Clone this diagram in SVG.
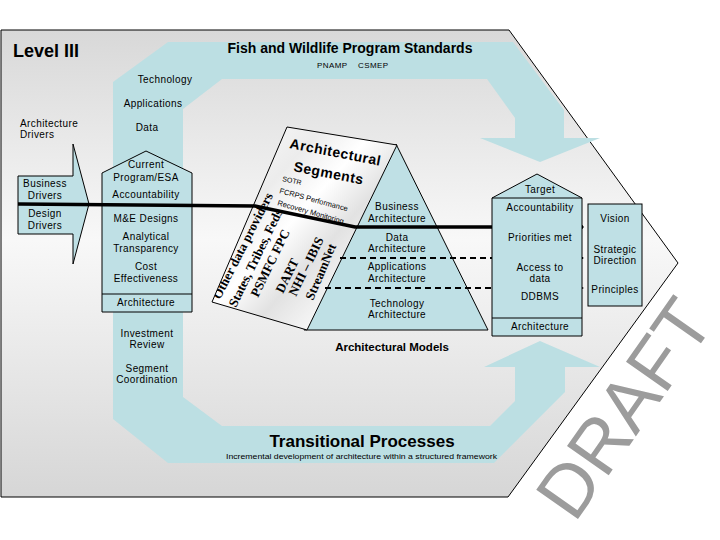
<svg xmlns="http://www.w3.org/2000/svg" width="720" height="540" viewBox="0 0 720 540">
<defs>
<linearGradient id="bg" x1="0" y1="0" x2="0" y2="1">
<stop offset="0" stop-color="#d8d8d8"/>
<stop offset="0.45" stop-color="#f8f8f8"/>
<stop offset="1" stop-color="#d6d6d6"/>
</linearGradient>
<linearGradient id="card" x1="0" y1="0" x2="1" y2="1">
<stop offset="0" stop-color="#ffffff"/>
<stop offset="0.3" stop-color="#ececec"/>
<stop offset="0.45" stop-color="#ffffff"/>
<stop offset="0.6" stop-color="#e2e2e2"/>
<stop offset="0.8" stop-color="#fbfbfb"/>
<stop offset="1" stop-color="#e6e6e6"/>
</linearGradient>
<clipPath id="cardclip"><polygon points="287,127 397,145 307,330 212,302"/></clipPath>
<marker id="ah" viewBox="0 0 10 10" refX="9" refY="5" markerWidth="4" markerHeight="4" orient="auto" markerUnits="strokeWidth">
<path d="M0,0 L10,5 L0,10 Z" fill="#000"/>
</marker>
<marker id="ahd" viewBox="0 0 10 10" refX="9" refY="5" markerWidth="5" markerHeight="5" orient="auto" markerUnits="strokeWidth">
<path d="M0,0 L10,5 L0,10 Z" fill="#000"/>
</marker>
</defs>
<style>
.t{font-family:"Liberation Sans",Arial,sans-serif;font-size:10px;fill:#000;letter-spacing:0.4px}
.c{text-anchor:middle}
.s{font-size:8px}
.b{font-weight:bold;letter-spacing:0}
.box{fill:#bfe0e5;stroke:#000;stroke-width:1}
.band{fill:#bcdfe3}
.tm{font-family:"Liberation Serif","Times New Roman",serif;font-weight:bold;font-size:13px;fill:#000}
.cd{font-family:"Liberation Sans",Arial,sans-serif;fill:#000}
.wm{font-family:"Liberation Sans",Arial,sans-serif;fill:#9c9c9c;font-size:74px;text-anchor:middle}
</style>
<rect width="720" height="540" fill="#fff"/>
<g id="frame">
<polygon points="1,30 509,30 678,263 508,497 1,497" fill="url(#bg)" stroke="#000" stroke-width="1"/>
</g>
<g id="flow-band">
<path class="band" d="M168,42 L513,42 L564,110 L564,138 L600,138 L540,162 L480,138 L515,138 L515,118 L487,79 L222,79 L183,109 L183,397 L222,426 L490,426 L515,401 L515,367 L484,367 L540,341 L600,367 L565,367 L565,392 L494,463 L168,463 L113,419 L113,82 Z"/>
</g>
<g id="title">
<text class="t b" x="13" y="57" style="font-size:18px">Level III</text>
<text class="t b c" x="350" y="53" style="font-size:14px">Fish and Wildlife Program Standards</text>
<text class="t s" x="317" y="68">PNAMP</text>
<text class="t s" x="358" y="68">CSMEP</text>
</g>
<g id="band-labels">
<text class="t c" x="165" y="83">Technology</text>
<text class="t c" x="153" y="107">Applications</text>
<text class="t c" x="147" y="131">Data</text>
<text class="t c" x="147" y="337">Investment</text>
<text class="t c" x="147" y="348">Review</text>
<text class="t c" x="147" y="372">Segment</text>
<text class="t c" x="147" y="383">Coordination</text>
</g>
<g id="arch-drivers">
<text class="t" x="20" y="127">Architecture</text>
<text class="t" x="20" y="138">Drivers</text>
</g>
<g id="drivers-arrow">
<polygon class="box" points="18,176 73,176 73,144 89,204 73,264 73,234 18,234"/>
<text class="t c" x="45" y="187">Business</text>
<text class="t c" x="45" y="199">Drivers</text>
<text class="t c" x="45" y="217">Design</text>
<text class="t c" x="45" y="229">Drivers</text>
</g>
<g id="current">
<polygon class="box" points="102,173 146,151 192,173 192,312 102,312"/>
<line x1="102" y1="294" x2="192" y2="294" stroke="#000"/>
<text class="t c" x="146" y="168">Current</text>
<text class="t c" x="146" y="181">Program/ESA</text>
<text class="t c" x="146" y="198">Accountability</text>
<text class="t c" x="146" y="222">M&amp;E Designs</text>
<text class="t c" x="146" y="240">Analytical</text>
<text class="t c" x="146" y="252">Transparency</text>
<text class="t c" x="146" y="270">Cost</text>
<text class="t c" x="146" y="282">Effectiveness</text>
<text class="t c" x="146" y="306">Architecture</text>
</g>
<g id="pyramid">
<polygon class="box" points="396,144 488,330 304,330"/>
<text class="t c" x="397" y="210">Business</text>
<text class="t c" x="397" y="222">Architecture</text>
<text class="t c" x="397" y="241">Data</text>
<text class="t c" x="397" y="252">Architecture</text>
<text class="t c" x="397" y="270">Applications</text>
<text class="t c" x="397" y="282">Architecture</text>
<text class="t c" x="397" y="307">Technology</text>
<text class="t c" x="397" y="318">Architecture</text>
<text class="t b c" x="392" y="351" style="font-size:11.5px">Architectural Models</text>
</g>
<g id="segments-card">
<polygon points="287,127 397,145 307,330 212,302" fill="url(#card)" stroke="#000" stroke-width="1"/>
<g clip-path="url(#cardclip)">
<text class="cd" font-weight="bold" font-size="14" transform="translate(289,148) rotate(11)" letter-spacing="0.5">Architectural</text>
<text class="cd" font-weight="bold" font-size="14" transform="translate(293,171) rotate(11)" letter-spacing="0.5">Segments</text>
<text class="cd" font-size="7" transform="translate(282,181) rotate(12)">SOTR</text>
<text class="cd" font-size="7.5" transform="translate(279,193) rotate(15)">FCRPS Performance</text>
<text class="cd" font-size="7.5" transform="translate(277,205) rotate(16)">Recovery Monitoring</text>
<text class="tm" transform="translate(220,300) rotate(-63)">Other data providers</text>
<text class="tm" transform="translate(236,308) rotate(-64)">States, Tribes, Feds</text>
<text class="tm" transform="translate(258,298) rotate(-64)">PSMFC  FPC</text>
<text class="tm" transform="translate(283,294) rotate(-64)">DART</text>
<text class="tm" transform="translate(296,297) rotate(-64)">NHI – IBIS</text>
<text class="tm" transform="translate(313,301) rotate(-67)">StreamNet</text>
</g>
</g>
<g id="connectors" fill="none" stroke="#000">
<polyline points="18,204 255,206 355,227 583,227" stroke-width="3.5" marker-end="url(#ah)"/>
<line x1="340" y1="258" x2="583" y2="258" stroke-width="2" stroke-dasharray="6,4" marker-end="url(#ahd)"/>
<line x1="325" y1="288" x2="583" y2="288" stroke-width="2" stroke-dasharray="6,4" marker-end="url(#ahd)"/>
</g>
<g id="target">
<polygon class="box" points="492,198 537,174 582,198 582,336 492,336"/>
<line x1="492" y1="198" x2="582" y2="198" stroke="#000"/>
<line x1="492" y1="318" x2="582" y2="318" stroke="#000"/>
<text class="t c" x="540" y="193">Target</text>
<text class="t c" x="540" y="211">Accountability</text>
<text class="t c" x="540" y="241">Priorities met</text>
<text class="t c" x="540" y="271">Access to</text>
<text class="t c" x="540" y="282">data</text>
<text class="t c" x="540" y="300">DDBMS</text>
<text class="t c" x="540" y="330">Architecture</text>
</g>
<g id="vision">
<rect class="box" x="588" y="204" width="54" height="102"/>
<text class="t c" x="615" y="222">Vision</text>
<text class="t c" x="615" y="253">Strategic</text>
<text class="t c" x="615" y="264">Direction</text>
<text class="t c" x="615" y="293">Principles</text>
</g>
<g id="transitional">
<text class="t b c" x="362" y="447" style="font-size:17px">Transitional Processes</text>
<text class="t" x="226" y="459" style="font-size:7.5px;letter-spacing:0" textLength="271" lengthAdjust="spacingAndGlyphs">Incremental development of architecture within a structured framework</text>
</g>
<g id="watermark">
<text class="wm" transform="translate(624,408) rotate(-55)" y="26">DRAFT</text>
</g>
</svg>
